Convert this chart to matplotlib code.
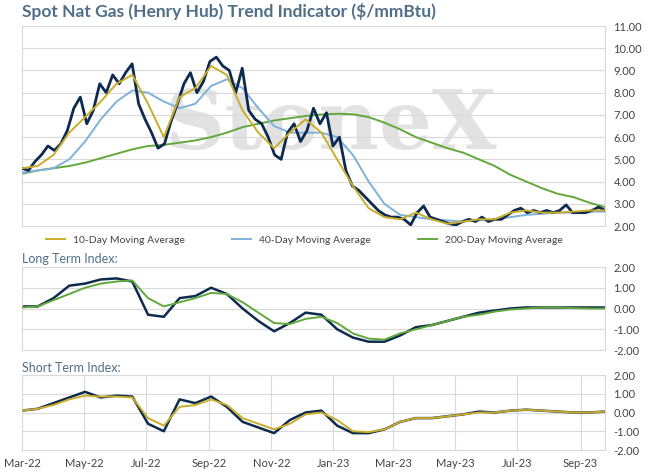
import numpy as np
import pandas as pd
import matplotlib
matplotlib.use('Agg')
import matplotlib.pyplot as plt
import matplotlib.dates as mdates

plt.rcParams['font.family'] = ['Lato', 'DejaVu Sans']

start = pd.Timestamp('2022-03-01')
end = pd.Timestamp('2023-09-25')

# weekly spot price
spot = [4.6, 4.5, 4.9, 5.2, 5.6, 5.4,
        5.7, 6.3, 7.3, 7.8, 6.6,
        7.2, 8.4, 8.0, 8.8, 8.4,
        8.9, 9.3, 7.5, 6.8, 6.2,
        5.5, 5.7, 6.7, 7.5, 8.4,
        8.9, 8.0, 8.5, 9.4, 9.6, 9.2,
        9.0, 8.0, 9.1, 7.2, 6.8,
        6.6, 6.0, 5.2, 5.0,
        6.2, 6.6, 5.8, 6.3, 7.3,
        6.6, 7.1, 5.6, 6.0, 4.5,
        3.8, 3.6, 3.3, 3.0, 2.7,
        2.5, 2.4, 2.4, 2.3,
        2.05, 2.6, 2.9, 2.4, 2.3,
        2.2, 2.1, 2.05, 2.2,
        2.3, 2.2, 2.4, 2.2, 2.3,
        2.3, 2.5, 2.7, 2.8,
        2.6, 2.7, 2.6, 2.7, 2.6,
        2.7, 2.95, 2.6, 2.6,
        2.6, 2.7, 2.85, 2.7]
# semi-monthly moving averages
ma10 = [4.6, 4.7, 5.2, 6.2, 6.9, 7.6, 8.4, 8.8, 7.5, 6.0, 7.8, 8.2, 9.2, 8.8,
        7.2, 6.2, 5.5, 6.2, 6.8, 6.2, 5.0, 3.8, 2.8, 2.4, 2.3, 2.6, 2.3, 2.1,
        2.2, 2.3, 2.3, 2.6, 2.7, 2.6, 2.6, 2.65, 2.7, 2.7]
ma40 = [4.4, 4.5, 4.6, 5.0, 5.8, 6.8, 7.6, 8.1, 8.0, 7.6, 7.3, 7.5, 8.3, 8.6,
        8.2, 7.3, 6.5, 6.2, 6.2, 6.2, 6.0, 5.2, 4.0, 3.0, 2.5, 2.4, 2.3, 2.25,
        2.2, 2.25, 2.3, 2.4, 2.5, 2.55, 2.6, 2.6, 2.65, 2.65]
ma200 = [4.35, 4.5, 4.6, 4.7, 4.85, 5.05, 5.25, 5.45, 5.6, 5.65, 5.75, 5.85,
         6.0, 6.2, 6.45, 6.6, 6.75, 6.85, 6.95, 7.02, 7.05, 7.03, 6.9, 6.65,
         6.35, 6.0, 5.75, 5.5, 5.3, 5.0, 4.7, 4.3, 4.0, 3.7, 3.45, 3.3, 3.05, 2.85]
long_idx = [0.1, 0.1, 0.5, 1.1, 1.2, 1.4, 1.45, 1.3, -0.3, -0.4, 0.5, 0.6, 1.0,
            0.7, 0.0, -0.6, -1.1, -0.7, -0.2, -0.3, -1.0, -1.4, -1.6, -1.6,
            -1.3, -0.9, -0.8, -0.6, -0.4, -0.2, -0.1, 0.0, 0.05, 0.05, 0.05,
            0.05, 0.05, 0.05]
long_sig = [0.05, 0.1, 0.4, 0.7, 1.0, 1.2, 1.3, 1.35, 0.5, 0.1, 0.3, 0.5, 0.75,
            0.7, 0.3, -0.2, -0.7, -0.75, -0.5, -0.4, -0.7, -1.2, -1.45, -1.5,
            -1.2, -1.0, -0.8, -0.6, -0.4, -0.3, -0.15, -0.05, 0.0, 0.05, 0.05,
            0.02, 0.0, 0.0]
short_idx = [0.1, 0.2, 0.5, 0.8, 1.1, 0.8, 0.9, 0.85, -0.6, -1.0, 0.7, 0.5, 0.85,
             0.3, -0.5, -0.8, -1.1, -0.4, 0.0, 0.1, -0.7, -1.1, -1.1, -0.9, -0.5,
             -0.3, -0.3, -0.2, -0.1, 0.05, 0.0, 0.1, 0.15, 0.1, 0.05, 0.0, 0.0, 0.05]
short_sig = [0.1, 0.2, 0.4, 0.7, 0.9, 0.85, 0.85, 0.8, -0.3, -0.7, 0.3, 0.4, 0.7,
             0.4, -0.3, -0.6, -0.9, -0.6, -0.1, 0.0, -0.4, -1.0, -1.05, -0.9,
             -0.5, -0.3, -0.3, -0.2, -0.1, 0.0, 0.0, 0.1, 0.15, 0.1, 0.05, 0.0,
             0.0, 0.05]


def dates_for(vals):
    return pd.to_datetime(np.linspace(start.value, end.value, len(vals)))


navy = '#0d2a4f'
gold = '#c9ad2c'
blue = '#7fb1d9'
green = '#62a83c'
grid = '#d9d9d9'
tcol = '#4f6f88'

fig = plt.figure(figsize=(6.48, 4.73), dpi=100)
W, H = 648, 473


def box(l, t, r, b):
    return [l / W, 1 - b / H, (r - l) / W, (b - t) / H]


ax1 = fig.add_axes(box(22, 26, 605, 226))
ax2 = fig.add_axes(box(22, 267, 605, 350))
ax3 = fig.add_axes(box(22, 375, 605, 450))

ax1.text(0.53, 0.5, 'StoneX', transform=ax1.transAxes, fontsize=60, fontweight='bold',
         family='DejaVu Serif', color='#cfcfcf', alpha=0.6, ha='center', va='center', zorder=0)
ax1.plot(dates_for(ma200), ma200, color=green, lw=1.4, label='200-Day Moving Average', zorder=2)
ax1.plot(dates_for(ma40), ma40, color=blue, lw=1.4, label='40-Day Moving Average', zorder=3)
ax1.plot(dates_for(spot), spot, color=navy, lw=2.0, zorder=4)
ax1.plot(dates_for(ma10), ma10, color=gold, lw=1.4, label='10-Day Moving Average', zorder=5)
ax1.set_ylim(2, 11)
ax1.set_yticks(np.arange(2, 11.1, 1))

ax2.plot(dates_for(long_sig), long_sig, color=green, lw=1.4, zorder=3)
ax2.plot(dates_for(long_idx), long_idx, color=navy, lw=1.8, zorder=2)
ax3.plot(dates_for(short_idx), short_idx, color=navy, lw=1.8, zorder=2)
ax3.plot(dates_for(short_sig), short_sig, color=gold, lw=1.4, zorder=3)
for ax in (ax2, ax3):
    ax.set_ylim(-2, 2)
    ax.set_yticks([-2, -1, 0, 1, 2])

ticks = pd.date_range('2022-03-01', '2023-09-01', freq='2MS')
for ax in (ax1, ax2, ax3):
    ax.set_xlim(start, end)
    ax.yaxis.tick_right()
    ax.yaxis.set_major_formatter(plt.FuncFormatter(lambda v, p: f'{v:.2f}'))
    ax.grid(axis='y', color=grid, lw=0.8)
    ax.set_axisbelow(True)
    for s in ax.spines.values():
        s.set_color(grid)
    ax.tick_params(axis='y', length=0, labelsize=8, colors='#444444', pad=6)
    ax.set_xticks(ticks)
    ax.tick_params(axis='x', length=0, labelbottom=False)
ax3.grid(axis='x', color=grid, lw=0.8)
ax3.tick_params(axis='x', labelbottom=True, labelsize=8, colors='#444444', pad=6)
ax3.xaxis.set_major_formatter(mdates.DateFormatter('%b-%y'))

h, l = ax1.get_legend_handles_labels()
order = [2, 1, 0]
fig.legend([h[i] for i in order], [l[i] for i in order], loc='center',
           bbox_to_anchor=(0.47, 1 - 240 / H), ncol=3, frameon=False, fontsize=7.5,
           handlelength=1.8, columnspacing=4.5, labelcolor='#444444')

fig.text(22 / W, 1 - 11 / H, 'Spot Nat Gas (Henry Hub) Trend Indicator ($/mmBtu)',
         fontsize=12.5, fontweight='bold', color=tcol, va='center')
fig.text(22 / W, 1 - 259 / H, 'Long Term Index:', fontsize=9, color=tcol, va='center')
fig.text(22 / W, 1 - 368 / H, 'Short Term Index:', fontsize=9, color=tcol, va='center')

fig.savefig('out.png', dpi=100)
